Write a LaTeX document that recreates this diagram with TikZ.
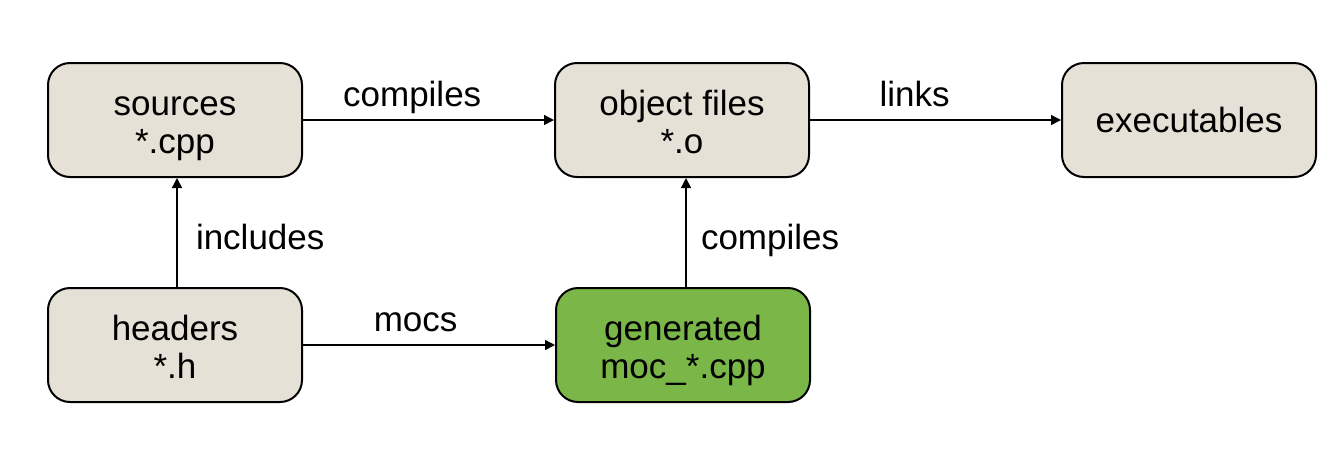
\documentclass[tikz,border=0pt]{standalone}
\usepackage{fontspec}
\setmainfont{Liberation Sans}
\usetikzlibrary{arrows.meta}
\definecolor{boxbeige}{HTML}{E5E1D6}
\definecolor{boxgreen}{HTML}{7AB648}
\newcommand{\twoline}[2]{\rule{0pt}{14pt}#1\\\smash{#2}}
\begin{document}
\begin{tikzpicture}[x=0.5pt,y=-0.5pt,
  box/.style={draw=black, line width=1pt, rounded corners=11pt, fill=boxbeige,
    minimum width=127pt, minimum height=57pt, align=center, inner sep=0pt,
    font=\fontsize{17.5}{19}\selectfont},
  conn/.style={line width=0.75pt, -{Triangle[length=5pt,width=5pt]}},
  lbl/.style={font=\fontsize{17.5}{19}\selectfont}]
\useasboundingbox (0,0) rectangle (1336,452);
\node[box] (src) at (175,120) {\twoline{sources}{*.cpp}};
\node[box] (obj) at (682,120) {\twoline{object files}{*.o}};
\node[box] (exe) at (1189,120) {executables};
\node[box] (hdr) at (175,345) {\twoline{headers}{*.h}};
\node[box, fill=boxgreen] (gen) at (683,345) {\twoline{generated}{moc\_*.cpp}};
\draw[conn] (src) -- (obj) node[lbl, pos=0.435, anchor=base, yshift=7pt] {compiles};
\draw[conn] (obj) -- (exe) node[lbl, pos=0.417, anchor=base, yshift=7pt] {links};
\draw[conn] (hdr.north -| 177,0) -- (src.south -| 177,0) node[lbl, pos=0.342, anchor=base west, xshift=5.8pt] {includes};
\draw[conn] (hdr) -- (gen) node[lbl, pos=0.447, anchor=base, yshift=7pt] {mocs};
\draw[conn] (gen.north -| 686,0) -- (obj.south -| 686,0) node[lbl, pos=0.342, anchor=base west, xshift=3.8pt] {compiles};
\end{tikzpicture}
\end{document}
